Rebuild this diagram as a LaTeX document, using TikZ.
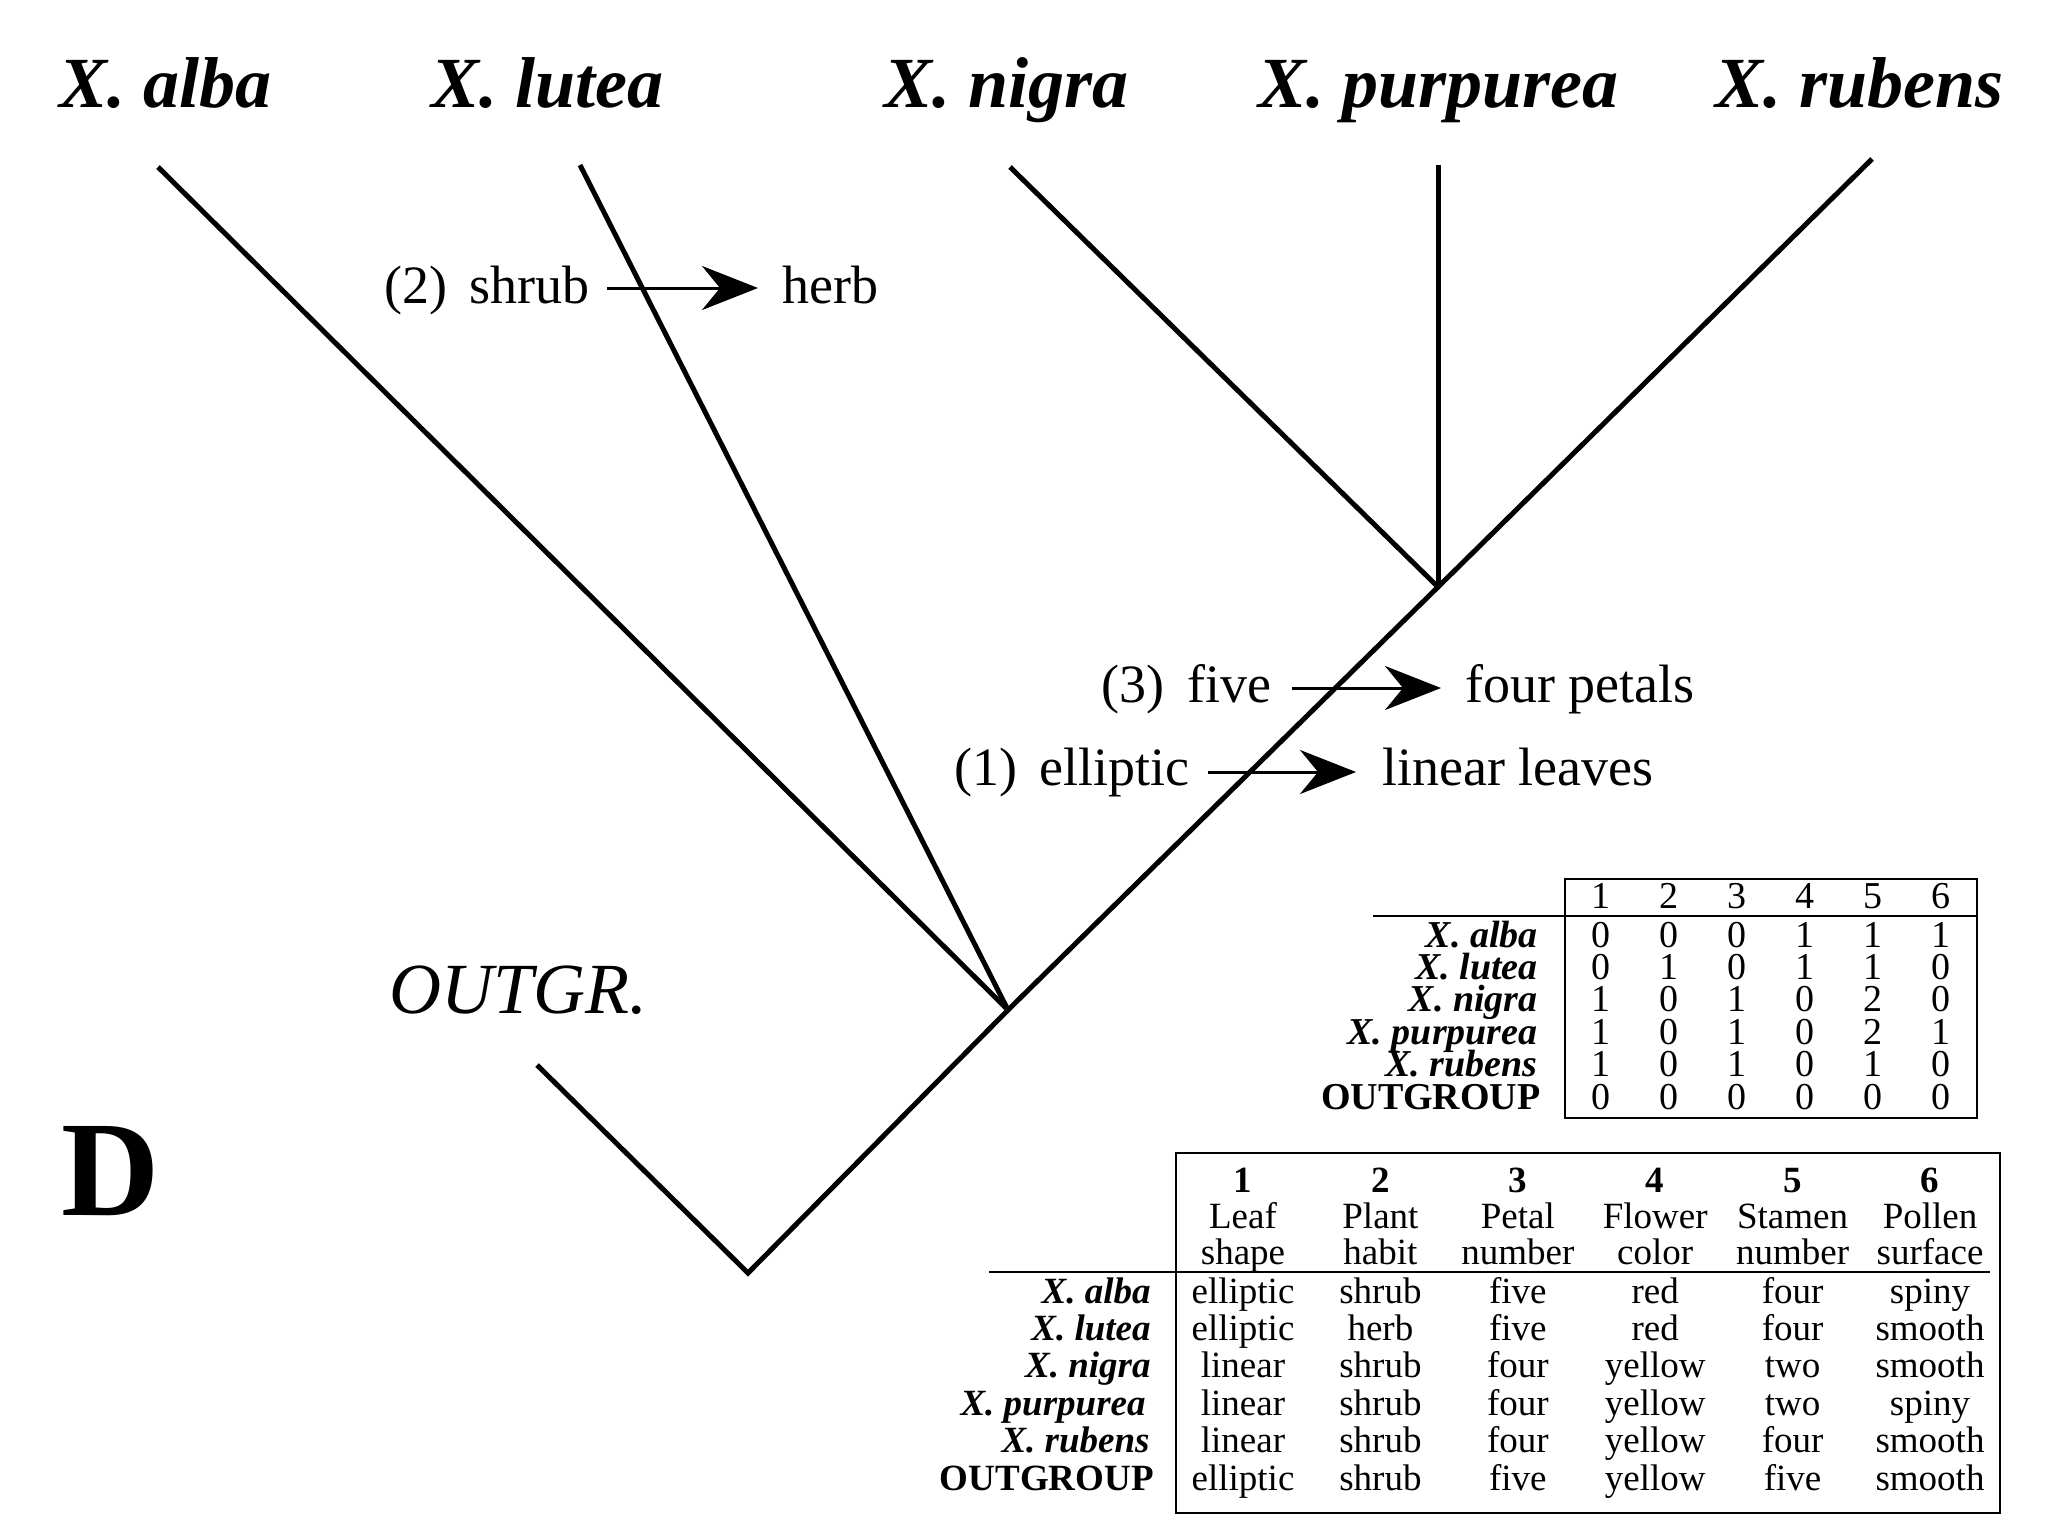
\documentclass[tikz,border=0pt]{standalone}
\usepackage{fontspec}
\setmainfont{Liberation Serif}
\usetikzlibrary{arrows.meta}
\begin{document}
\begin{tikzpicture}[x=0.5pt,y=-0.5pt,
  taxon/.style={anchor=base west,inner sep=0pt,font=\fontsize{36}{36}\selectfont\bfseries\itshape},
  outlab/.style={anchor=base west,inner sep=0pt,font=\fontsize{36}{36}\selectfont\itshape},
  panel/.style={anchor=base west,inner sep=0pt,font=\fontsize{68}{68}\selectfont\bfseries},
  branch/.style={line width=2.5pt,line join=miter,line cap=butt},
  chg/.style={anchor=base west,inner sep=0pt,font=\fontsize{27}{27}\selectfont},
  chgarrow/.style={line width=1.5pt,-{Stealth[length=28pt,width=22pt,inset=9pt]}},
  cellA/.style={anchor=base,inner sep=0pt,font=\fontsize{19}{19}\selectfont},
  rowA/.style={anchor=base east,inner sep=0pt,font=\fontsize{19}{19}\selectfont\bfseries\itshape},
  rowAo/.style={anchor=base east,inner sep=0pt,font=\fontsize{19}{19}\selectfont\bfseries},
  cellB/.style={anchor=base,inner sep=0pt,font=\fontsize{18.5}{18.5}\selectfont},
  headB/.style={anchor=base,inner sep=0pt,font=\fontsize{18.5}{18.5}\selectfont\bfseries},
  rowB/.style={anchor=base east,inner sep=0pt,font=\fontsize{18.5}{18.5}\selectfont\bfseries\itshape},
  rowBo/.style={anchor=base east,inner sep=0pt,font=\fontsize{18.5}{18.5}\selectfont\bfseries},
  rule/.style={line width=1pt}
]
\useasboundingbox (0,0) rectangle (2048,1536);

% taxon labels
\node[taxon] (lab-alba) at (59,107) {X. alba};
\node[taxon] (lab-lutea) at (431,107) {X. lutea};
\node[taxon] (lab-nigra) at (884,107) {X. nigra};
\node[taxon] (lab-purp) at (1258,107) {X. purpurea};
\node[taxon] (lab-rub) at (1715,107) {X. rubens};
\node[outlab] (lab-out) at (389,1013) {OUTGR.};
\node[panel] (lab-D) at (61,1215) {D};

% tree
\coordinate (tipA) at (158,167);
\coordinate (tipL) at (580,165);
\coordinate (tipN) at (1010,167);
\coordinate (tipP) at (1438,165);
\coordinate (tipR) at (1872,159);
\coordinate (n2) at (1438,587);
\coordinate (n1) at (1008,1010);
\coordinate (root) at (748,1273);
\coordinate (tipO) at (537,1065);
\draw[branch] (tipO) -- (root) -- (n1) -- (n2) -- (tipR);
\draw[branch] (n1) -- (tipA);
\draw[branch] (n1) -- (tipL);
\draw[branch] (n2) -- (tipN);
\draw[branch] (n2) -- (tipP);

% character changes
\node[chg] (c2n) at (384,303) {(2)};
\node[chg] (c2a) at (469,303) {shrub};
\node[chg] (c2b) at (782,303) {herb};
\draw[chgarrow] ([xshift=8.5pt,yshift=7.5pt]c2a.base east) -- ([xshift=-12pt,yshift=7.5pt]c2b.base west);

\node[chg] (c3n) at (1101,702) {(3)};
\node[chg] (c3a) at (1187,702) {five};
\node[chg] (c3b) at (1465,702) {four petals};
\draw[chgarrow] ([xshift=10pt,yshift=7pt]c3a.base east) -- ([xshift=-12pt,yshift=7pt]c3b.base west);

\node[chg] (c1n) at (954,785) {(1)};
\node[chg] (c1a) at (1039,785) {elliptic};
\node[chg] (c1b) at (1382,785) {linear leaves};
\draw[chgarrow] ([xshift=9pt,yshift=6.5pt]c1a.base east) -- ([xshift=-13pt,yshift=6.5pt]c1b.base west);

% table 1 (coded matrix)
\draw[rule] (1565,879) rectangle (1977,1118);
\draw[rule] (1373,916) -- (1977,916);
\foreach \c in {1,...,6} \node[cellA] (ah\c) at ({1601+68*(\c-1)},908) {\c};
\node[rowA] (ar1) at (1538,947) {X. alba};
\node[rowA] (ar2) at (1538,979.4) {X. lutea};
\node[rowA] (ar3) at (1538,1011.8) {X. nigra};
\node[rowA] (ar4) at (1538,1044.2) {X. purpurea};
\node[rowA] (ar5) at (1538,1076.6) {X. rubens};
\node[rowAo] (ar6) at (1541,1109) {OUTGROUP};
\foreach \v [count=\c] in {0,0,0,1,1,1} \node[cellA] (a1c\c) at ({1601+68*(\c-1)},947) {\v};
\foreach \v [count=\c] in {0,1,0,1,1,0} \node[cellA] (a2c\c) at ({1601+68*(\c-1)},979.4) {\v};
\foreach \v [count=\c] in {1,0,1,0,2,0} \node[cellA] (a3c\c) at ({1601+68*(\c-1)},1011.8) {\v};
\foreach \v [count=\c] in {1,0,1,0,2,1} \node[cellA] (a4c\c) at ({1601+68*(\c-1)},1044.2) {\v};
\foreach \v [count=\c] in {1,0,1,0,1,0} \node[cellA] (a5c\c) at ({1601+68*(\c-1)},1076.6) {\v};
\foreach \v [count=\c] in {0,0,0,0,0,0} \node[cellA] (a6c\c) at ({1601+68*(\c-1)},1109) {\v};

% table 2 (characters)
\draw[rule] (1176,1153) rectangle (2000,1513);
\draw[rule] (989,1272) -- (1990,1272);
\foreach \c in {1,...,6} \node[headB] (bh\c) at ({1243+137.4*(\c-1)},1192) {\c};
\foreach \w [count=\c] in {Leaf,Plant,Petal,Flower,Stamen,Pollen} \node[cellB] (bt\c) at ({1243+137.4*(\c-1)},1228) {\w};
\foreach \w [count=\c] in {shape,habit,number,color,number,surface} \node[cellB] (bu\c) at ({1243+137.4*(\c-1)},1264) {\w};
\node[rowB] (br1) at (1151,1303) {X. alba};
\node[rowB] (br2) at (1151,1340.4) {X. lutea};
\node[rowB] (br3) at (1151,1377.8) {X. nigra};
\node[rowB] (br4) at (1146,1415.2) {X. purpurea};
\node[rowB] (br5) at (1150,1452.6) {X. rubens};
\node[rowBo] (br6) at (1154,1490) {OUTGROUP};
\foreach \v [count=\c] in {elliptic,shrub,five,red,four,spiny} \node[cellB] (b1c\c) at ({1243+137.4*(\c-1)},1303) {\v};
\foreach \v [count=\c] in {elliptic,herb,five,red,four,smooth} \node[cellB] (b2c\c) at ({1243+137.4*(\c-1)},1340.4) {\v};
\foreach \v [count=\c] in {linear,shrub,four,yellow,two,smooth} \node[cellB] (b3c\c) at ({1243+137.4*(\c-1)},1377.8) {\v};
\foreach \v [count=\c] in {linear,shrub,four,yellow,two,spiny} \node[cellB] (b4c\c) at ({1243+137.4*(\c-1)},1415.2) {\v};
\foreach \v [count=\c] in {linear,shrub,four,yellow,four,smooth} \node[cellB] (b5c\c) at ({1243+137.4*(\c-1)},1452.6) {\v};
\foreach \v [count=\c] in {elliptic,shrub,five,yellow,five,smooth} \node[cellB] (b6c\c) at ({1243+137.4*(\c-1)},1490) {\v};
\end{tikzpicture}
\end{document}
